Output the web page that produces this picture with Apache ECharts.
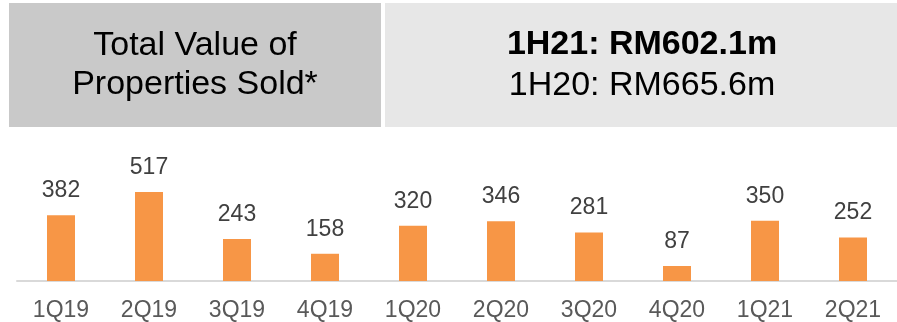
<!DOCTYPE html>
<html>
<head>
<meta charset="utf-8">
<script src="https://cdn.jsdelivr.net/npm/echarts@6/dist/echarts.min.js"></script>
<style>
  html, body { margin: 0; padding: 0; background: #fff; }
  #main { width: 897px; height: 322px; }
</style>
</head>
<body>
<div id="main"></div>
<script>
const quarters = ['1Q19', '2Q19', '3Q19', '4Q19', '1Q20', '2Q20', '3Q20', '4Q20', '1Q21', '2Q21']
const values = [382, 517, 243, 158, 320, 346, 281, 87, 350, 252]
const headerLeft = ['Total Value of', 'Properties Sold*']
const headerRight = ['1H21: RM602.1m', '1H20: RM665.6m']

const font = '"Liberation Sans", Arial, sans-serif'
const chart = echarts.init(document.getElementById('main'))

const option = {
  animation: false,
  textStyle: { fontFamily: font },
  grid: { left: 17, right: 0, top: 150, bottom: 41 },
  xAxis: {
    type: 'category',
    data: quarters,
    axisLine: { lineStyle: { color: '#d9d9d9', width: 2 } },
    axisTick: { show: false },
    axisLabel: { color: '#595959', fontSize: 23, margin: 18, fontFamily: font }
  },
  yAxis: {
    type: 'value',
    min: 0,
    max: 760,
    show: false,
    splitLine: { show: false }
  },
  series: [
    {
      type: 'bar',
      data: values,
      barWidth: 28,
      itemStyle: { color: '#f79646' },
      label: {
        show: true,
        position: 'top',
        distance: 13,
        color: '#404040',
        fontSize: 23,
        fontFamily: font
      }
    }
  ],
  graphic: [
    // header boxes
    { type: 'rect', shape: { x: 9, y: 3, width: 372, height: 124 }, style: { fill: '#c9c9c9' } },
    { type: 'rect', shape: { x: 385, y: 3, width: 512, height: 124 }, style: { fill: '#e7e7e7' } },
    {
      type: 'text', x: 195, y: 46,
      style: { text: headerLeft[0], font: '34px ' + font, fill: '#000', align: 'center', verticalAlign: 'middle' }
    },
    {
      type: 'text', x: 195, y: 85,
      style: { text: headerLeft[1], font: '34px ' + font, fill: '#000', align: 'center', verticalAlign: 'middle' }
    },
    {
      type: 'text', x: 642, y: 45,
      style: { text: headerRight[0], font: 'bold 34px ' + font, fill: '#000', align: 'center', verticalAlign: 'middle' }
    },
    {
      type: 'text', x: 642, y: 86,
      style: { text: headerRight[1], font: '34px ' + font, fill: '#000', align: 'center', verticalAlign: 'middle' }
    }
  ]
}

chart.setOption(option)
</script>
</body>
</html>
